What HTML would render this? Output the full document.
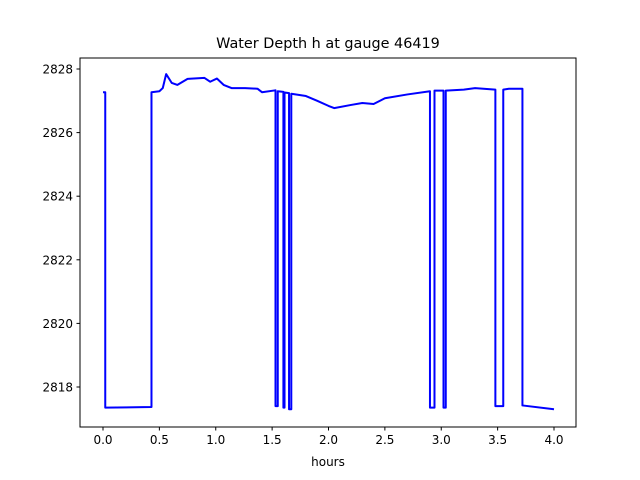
<!DOCTYPE html>
<html><head><meta charset="utf-8"><style>
body{margin:0;background:#fff}
svg{display:block;font-family:"DejaVu Sans","Liberation Sans",sans-serif}
</style></head><body>
<svg id="chart" width="640" height="480">
<rect width="640" height="480" fill="#fff"/>
<text x="328" y="48" font-size="14.4" text-anchor="middle">Water Depth h at gauge 46419</text>
<g id="ticks"></g>
<path id="line" fill="none" stroke="#0000ff" stroke-width="2" stroke-linejoin="round"/>
<rect x="80" y="58" width="496" height="369" fill="none" stroke="#000" stroke-width="1"/>
<text x="328" y="466" font-size="12" text-anchor="middle">hours</text>
</svg>
<script>
const hours = [0,0.02,0.02,0.43,0.43,0.5,0.53,0.56,0.61,0.66,0.75,0.9,0.95,1.01,1.07,1.14,1.26,1.37,1.41,1.53,1.53,1.55,1.55,1.60,1.60,1.61,1.61,1.65,1.65,1.67,1.67,1.8,1.9,2.0,2.05,2.2,2.3,2.4,2.5,2.7,2.9,2.9,2.94,2.94,3.02,3.02,3.04,3.04,3.2,3.3,3.48,3.48,3.55,3.55,3.6,3.72,3.72,4.0];
const depth = [2827.27,2827.27,2817.35,2817.37,2827.27,2827.3,2827.4,2827.84,2827.56,2827.5,2827.69,2827.72,2827.6,2827.7,2827.5,2827.4,2827.4,2827.38,2827.27,2827.33,2817.4,2817.4,2827.3,2827.28,2817.35,2817.35,2827.26,2827.24,2817.3,2817.3,2827.22,2827.15,2827.0,2826.84,2826.77,2826.87,2826.93,2826.9,2827.08,2827.2,2827.3,2817.35,2817.35,2827.32,2827.32,2817.35,2817.35,2827.32,2827.35,2827.4,2827.35,2817.4,2817.4,2827.35,2827.38,2827.38,2817.42,2817.3];
const xTicks = [0,0.5,1,1.5,2,2.5,3,3.5,4];
const yTicks = [2818,2820,2822,2824,2826,2828];
const xs = h => 103 + h * 112.75;
const ys = d => 387 - (d - 2818) * 31.8;
const NS = "http://www.w3.org/2000/svg";
const g = document.getElementById('ticks');
function mk(tag, attrs, txt){const e=document.createElementNS(NS,tag);for(const k in attrs)e.setAttribute(k,attrs[k]);if(txt!==undefined)e.textContent=txt;g.appendChild(e);return e;}
xTicks.forEach(t=>{
  const l=mk('line',{x1:xs(t),x2:xs(t),y1:427,y2:430.5,stroke:'#000'});
  
  
  const tx=mk('text',{x:xs(t),y:444,'font-size':12,'text-anchor':'middle'},t.toFixed(1));
  
  
});
yTicks.forEach(t=>{
  const l=mk('line',{x1:76.5,x2:80,y1:ys(t),y2:ys(t),stroke:'#000'});
  
  
  const tx=mk('text',{x:73,y:ys(t)+4.5,'font-size':12,'text-anchor':'end'},String(t));
  
  
});
document.getElementById('line').setAttribute('d', hours.map((h,i)=>(i?'L':'M')+xs(h).toFixed(2)+','+ys(depth[i]).toFixed(2)).join(''));
</script>
</body></html>
